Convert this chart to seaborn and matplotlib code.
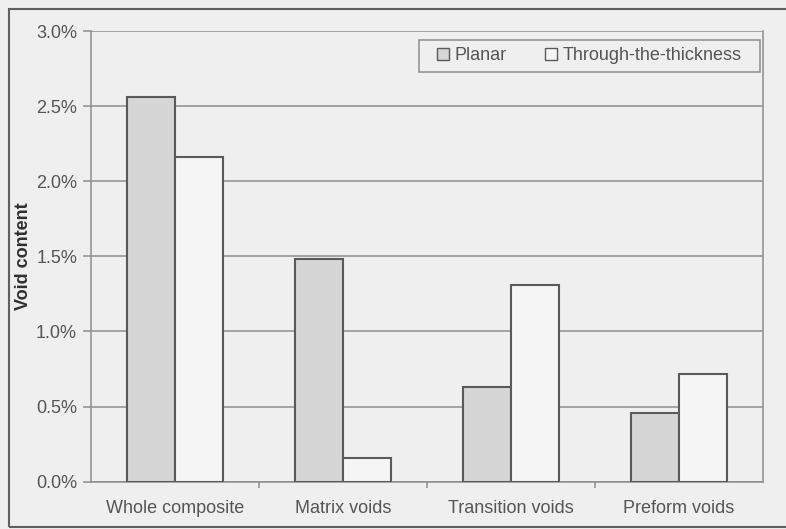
import matplotlib
matplotlib.use("Agg")
import matplotlib.pyplot as plt
import seaborn as sns
import pandas as pd
from matplotlib.ticker import FuncFormatter, FixedLocator
from matplotlib.patches import Rectangle

categories = ["Whole composite", "Matrix voids", "Transition voids", "Preform voids"]
planar = [2.56, 1.48, 0.63, 0.46]
through = [2.16, 0.16, 1.31, 0.72]
series_names = ["Planar", "Through-the-thickness"]

df = pd.DataFrame({
    "category": categories * 2,
    "value": planar + through,
    "series": [series_names[0]] * 4 + [series_names[1]] * 4,
})

sns.set_theme(style="white")
plt.rcParams["font.family"] = ["Liberation Sans", "DejaVu Sans"]

bg = "#efefef"
txt = "#555555"
W, H = 786, 529
fig = plt.figure(figsize=(7.86, 5.29), dpi=100, facecolor=bg)
x0, x1, y0, y1 = 91, 763, 481.7, 31
ax = fig.add_axes([x0/W, 1 - y0/H, (x1-x0)/W, (y0-y1)/H])
ax.set_facecolor(bg)

sns.barplot(data=df, x="category", y="value", hue="series", order=categories,
            hue_order=series_names,
            palette={series_names[0]: "#d6d6d6", series_names[1]: "#f5f5f5"},
            width=0.572, gap=0, edgecolor="#5a5a5a", linewidth=1.5,
            saturation=1, ax=ax, zorder=3)

ax.set_xlim(-0.5, 3.5)
ax.set_ylim(0, 3.0)
ax.set_yticks([0, 0.5, 1.0, 1.5, 2.0, 2.5, 3.0])
ax.yaxis.set_major_formatter(FuncFormatter(lambda v, p: f"{v:.1f}%"))
ax.grid(axis="y", color="#8e8e8e", linewidth=1.1, zorder=0)
ax.set_axisbelow(True)

for side in ["left", "bottom", "right"]:
    ax.spines[side].set_visible(True)
    ax.spines[side].set_color("#8e8e8e")
    ax.spines[side].set_linewidth(1.1)
ax.spines["top"].set_visible(False)

ax.tick_params(axis="y", which="major", length=6, width=1.1, color="#8e8e8e",
               labelsize=13, labelcolor=txt, pad=4, left=True)
ax.tick_params(axis="x", which="major", length=0, labelsize=13, labelcolor=txt, pad=13)
ax.xaxis.set_minor_locator(FixedLocator([0.5, 1.5, 2.5]))
ax.tick_params(axis="x", which="minor", length=4, width=1.1, color="#8e8e8e", bottom=True)

ax.set_xlabel("")
ax.set_ylabel("Void content", fontsize=13, fontweight="bold", color="#303030", labelpad=3)

# legend box
bx0, bx1, by0, by1 = 419, 760, 40, 72
ax.add_patch(Rectangle(((bx0-x0)/(x1-x0), (y0-by1)/(y0-y1)),
                       (bx1-bx0)/(x1-x0), (by1-by0)/(y0-y1),
                       transform=ax.transAxes, facecolor=bg, edgecolor="#8e8e8e",
                       linewidth=1.1, zorder=4))
leg = ax.legend(loc="center", ncol=2, frameon=False,
                fontsize=13, handlelength=0.65, handleheight=0.65,
                handletextpad=0.33, columnspacing=2.1, borderpad=0,
                bbox_to_anchor=(((bx0+bx1)/2-x0)/(x1-x0), (y0-(by0+by1)/2)/(y0-y1)))
leg.set_zorder(5)
for t in leg.get_texts():
    t.set_color(txt)
for h in leg.legend_handles:
    h.set_linewidth(1.0)

fig.patches.append(Rectangle((8.5/W, 1 - 527/H), (790-8.5)/W, (527-9)/H,
                             transform=fig.transFigure, fill=False,
                             edgecolor="#606060", linewidth=1.5))

fig.savefig("out.png", dpi=100, facecolor=bg)
